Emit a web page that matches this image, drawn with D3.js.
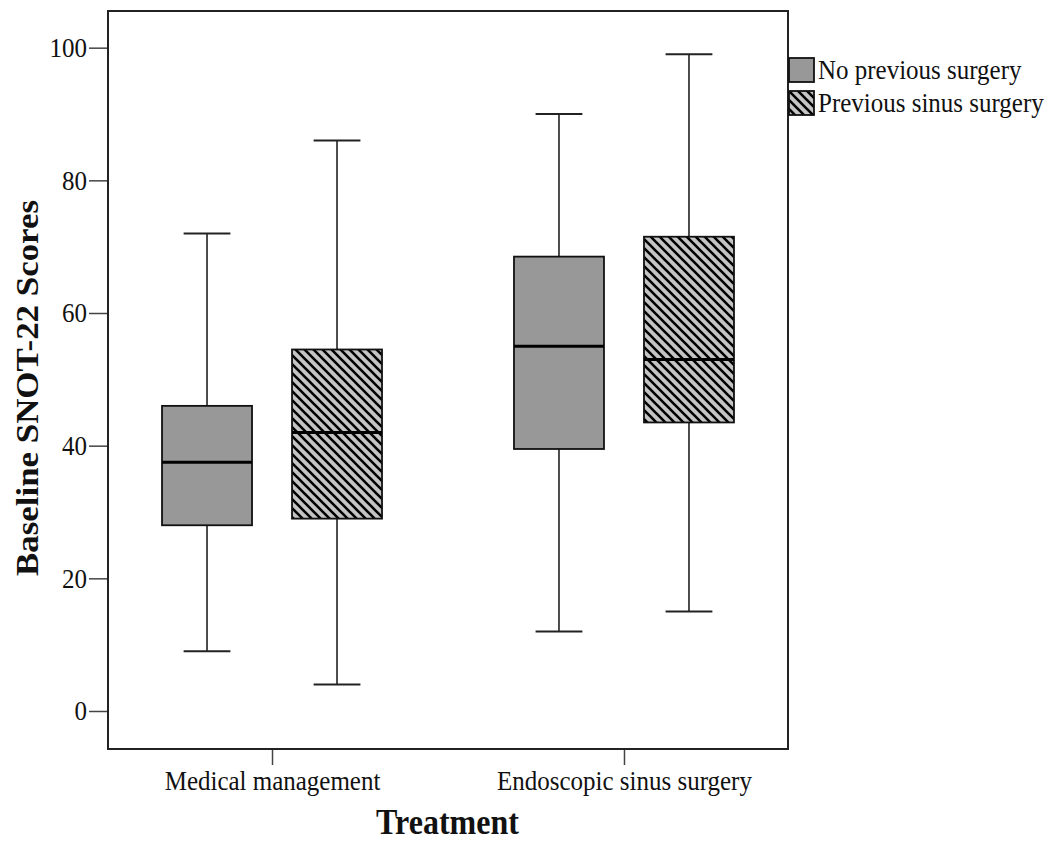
<!DOCTYPE html>
<html><head><meta charset="utf-8">
<script src="https://cdnjs.cloudflare.com/ajax/libs/d3/7.8.5/d3.min.js"></script>
<style>body{margin:0;background:#fff}svg{display:block}text{font-family:"Liberation Serif","Times New Roman",serif;fill:#111}</style>
</head><body><svg id="c" width="1050" height="843"></svg>
<script>
const categories = ["Medical management", "Endoscopic sinus surgery"];
const series = ["No previous surgery", "Previous sinus surgery"];
const minNo = [9, 12],   minPrev = [4, 15];
const q1No = [28, 39.5], q1Prev = [29, 43.5];
const medNo = [37.5, 55], medPrev = [42, 53];
const q3No = [46, 68.5], q3Prev = [54.5, 71.5];
const maxNo = [72, 90],  maxPrev = [86, 99];
const yTicks = [0, 20, 40, 60, 80, 100];

const boxes = [];
categories.forEach((c, i) => {
  boxes.push({cat: c, ser: series[0], min: minNo[i], q1: q1No[i], med: medNo[i], q3: q3No[i], max: maxNo[i]});
  boxes.push({cat: c, ser: series[1], min: minPrev[i], q1: q1Prev[i], med: medPrev[i], q3: q3Prev[i], max: maxPrev[i]});
});

const svg = d3.select("#c");
const L = 108, R = 788, T = 11, B = 749;
const SY = 1.09;

const defs = svg.append("defs");
const pat = defs.append("pattern").attr("id", "hatch").attr("patternUnits", "userSpaceOnUse")
  .attr("width", 9).attr("height", 9);
pat.append("rect").attr("width", 9).attr("height", 9).attr("fill", "#c4c4c4");
pat.append("path").attr("d", "M-2,-2 L11,11 M-2,7 L2,11 M7,-2 L11,2")
  .attr("stroke", "#000").attr("stroke-width", 2.6);

const x = d3.scalePoint().domain(categories).range([L, R]).padding(0.466);
const x1 = d3.scaleBand().domain(series).range([-110, 110]).paddingInner(40 / 130).paddingOuter(0);
const y = d3.scaleLinear().domain([-5.73, 105.53]).range([B, T]);
const fill = d3.scaleOrdinal().domain(series).range(["#989898", "url(#hatch)"]);

// axes
const yAxis = d3.axisLeft(y).tickValues(yTicks).tickSize(19).tickPadding(2);
const gy = svg.append("g").attr("transform", `translate(${L},0)`).call(yAxis);
gy.select(".domain").remove();
gy.selectAll(".tick line").attr("stroke", "#444").attr("stroke-width", 1.5);
gy.selectAll(".tick text").attr("font-size", 25).attr("fill", "#111")
  .attr("dy", null).attr("dominant-baseline", "central")
  .attr("transform", `scale(1,${SY})`).attr("y", 0);

const xAxis = d3.axisBottom(x).tickSize(16).tickPadding(6);
const gx = svg.append("g").attr("transform", `translate(0,${B})`).call(xAxis);
gx.select(".domain").remove();
gx.selectAll(".tick line").attr("stroke", "#444").attr("stroke-width", 1.5);
gx.selectAll(".tick text").attr("font-size", 25).attr("fill", "#111")
  .attr("dy", null).attr("y", 0)
  .attr("transform", `translate(0,41) scale(1,${SY})`);

// boxes
const g = svg.append("g");
const bw = x1.bandwidth();
const cx = d => x(d.cat) + x1(d.ser) + bw / 2;
const bx = g.selectAll(".bx").data(boxes).join("g");
bx.append("line").attr("x1", cx).attr("x2", cx).attr("y1", d => y(d.min)).attr("y2", d => y(d.max))
  .attr("stroke", "#222").attr("stroke-width", 1.6);
bx.append("line").attr("x1", d => cx(d) - bw * 0.26).attr("x2", d => cx(d) + bw * 0.26)
  .attr("y1", d => y(d.max)).attr("y2", d => y(d.max)).attr("stroke", "#222").attr("stroke-width", 2);
bx.append("line").attr("x1", d => cx(d) - bw * 0.26).attr("x2", d => cx(d) + bw * 0.26)
  .attr("y1", d => y(d.min)).attr("y2", d => y(d.min)).attr("stroke", "#222").attr("stroke-width", 2);
bx.append("rect").attr("x", d => cx(d) - bw / 2).attr("width", bw)
  .attr("y", d => y(d.q3)).attr("height", d => y(d.q1) - y(d.q3))
  .attr("fill", d => fill(d.ser)).attr("stroke", "#111").attr("stroke-width", 1.8);
bx.append("line").attr("x1", d => cx(d) - bw / 2).attr("x2", d => cx(d) + bw / 2)
  .attr("y1", d => y(d.med)).attr("y2", d => y(d.med)).attr("stroke", "#000").attr("stroke-width", 3);

// frame
svg.append("rect").attr("x", L).attr("y", T).attr("width", R - L).attr("height", B - T)
  .attr("fill", "none").attr("stroke", "#222").attr("stroke-width", 2);

// titles
svg.append("text").attr("transform", `translate(${(L + R) / 2 - 0.5},834) scale(1,${SY})`)
  .attr("text-anchor", "middle").attr("font-size", 32).attr("font-weight", "bold").text("Treatment");
svg.append("text").attr("transform", `translate(38,388) rotate(-90) scale(${SY},1)`)
  .attr("text-anchor", "middle").attr("font-size", 32).attr("font-weight", "bold").text("Baseline SNOT-22 Scores");

// legend
const lg = svg.append("g").selectAll("g").data(series).join("g")
  .attr("transform", (d, i) => `translate(789,${58 + i * 33})`);
lg.append("rect").attr("width", 25).attr("height", 24).attr("fill", d => fill(d))
  .attr("stroke", "#111").attr("stroke-width", 1.8);
lg.append("text").attr("transform", `translate(29,21) scale(1,${SY})`)
  .attr("font-size", 25).text(d => d);
</script></body></html>
